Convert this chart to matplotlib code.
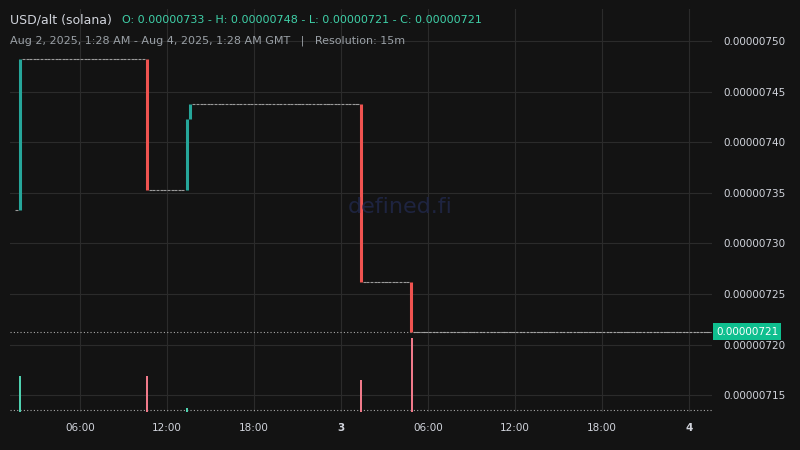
import matplotlib
matplotlib.use("Agg")
import matplotlib.pyplot as plt
import numpy as np

# price moves: (hour since Aug 2 00:00, open, close)
move_hours = [1.75, 10.5, 13.25, 13.5, 25.25, 28.75]
move_open  = [7.333, 7.482, 7.353, 7.423, 7.438, 7.262]
move_close = [7.482, 7.353, 7.423, 7.438, 7.262, 7.213]
vol_hours  = [1.75, 10.5, 13.25, 25.25, 28.75]
vol_values = [16, 16, 1.5, 14, 33]
start_hour, end_hour = 1.47, 49.47
start_price = 7.333
xticks = [6, 12, 18, 24, 30, 36, 42, 48]
xlabels = ["06:00", "12:00", "18:00", "3", "06:00", "12:00", "18:00", "4"]
yticks = [7.15, 7.20, 7.25, 7.30, 7.35, 7.40, 7.45, 7.50]
last_price = 7.213

BG = "#131313"; GREEN = "#26a69a"; RED = "#ef5350"; GRID = "#2b2b2b"; TXT = "#d1d4dc"
fig = plt.figure(figsize=(8, 4.5), dpi=100, facecolor=BG)
ax = fig.add_axes([0.0125, 0.085, 0.878, 0.895], facecolor=BG)
ax.set_xlim(1.17, 49.6)
ax.set_ylim(7.1337, 7.5317)

t = start_hour; price = start_price
mi = 0
while t < end_hour:
    if mi < len(move_hours) and abs(t - move_hours[mi]) < 0.13:
        o, c = move_open[mi], move_close[mi]
        ax.vlines(t + 0.125, min(o, c), max(o, c), color=GREEN if c > o else RED, lw=2.2, zorder=3)
        price = c; mi += 1
    else:
        ax.hlines(price, t + 0.02, t + 0.23, color="#9a9a9a", lw=0.8, zorder=2)
    t += 0.25

ax.set_xticks(xticks)
ax.set_xticklabels(xlabels)
for lbl, s in zip(ax.get_xticklabels(), xlabels):
    if s in ("3", "4"): lbl.set_fontweight("bold")
ax.set_yticks(yticks)
ax.set_yticklabels([f"0.00000{int(round(v*100)):03d}" for v in yticks])
ax.grid(color=GRID, lw=0.8)
for s in ax.spines.values(): s.set_visible(False)
ax.axhline(last_price, color="#aaaaaa", lw=0.8, ls=(0, (1, 2)))
ax.axhline(7.1337 + 0.002, color="#aaaaaa", lw=0.8, ls=(0, (1, 2)))

# volume
vax = ax.twinx()
vax.set_ylim(0, 180)
vax.axis("off")
for h, v in zip(vol_hours, vol_values):
    idx = [i for i, mh in enumerate(move_hours) if abs(mh - h) < 0.01][0]
    col = "#4fd1b0" if move_close[idx] > move_open[idx] else "#f07a8a"
    vax.bar(h + 0.125, v, width=0.12, color=col)

ax.yaxis.tick_right()
ax.yaxis.set_label_position("right")
ax.tick_params(colors=TXT, labelsize=7.5, length=0, pad=8)
ax.text(1.005, last_price, "0.00000721", transform=ax.get_yaxis_transform(), va="center", ha="left",
        fontsize=7.5, color="white", zorder=10,
        bbox=dict(boxstyle="square,pad=0.3", fc="#0fbf8f", ec="none"))

fig.text(0.5, 0.54, "defined.fi", color="#1e2440", fontsize=16, ha="center", va="center")
fig.text(0.012, 0.955, "USD/alt (solana)", color=TXT, fontsize=9, va="center")
fig.text(0.153, 0.955, "O: 0.00000733 - H: 0.00000748 - L: 0.00000721 - C: 0.00000721",
         color="#3fd0a8", fontsize=8, va="center")
fig.text(0.012, 0.91, "Aug 2, 2025, 1:28 AM - Aug 4, 2025, 1:28 AM GMT   |   Resolution: 15m",
         color="#9aa0a6", fontsize=8, va="center")
fig.savefig("out.png", facecolor=BG)
